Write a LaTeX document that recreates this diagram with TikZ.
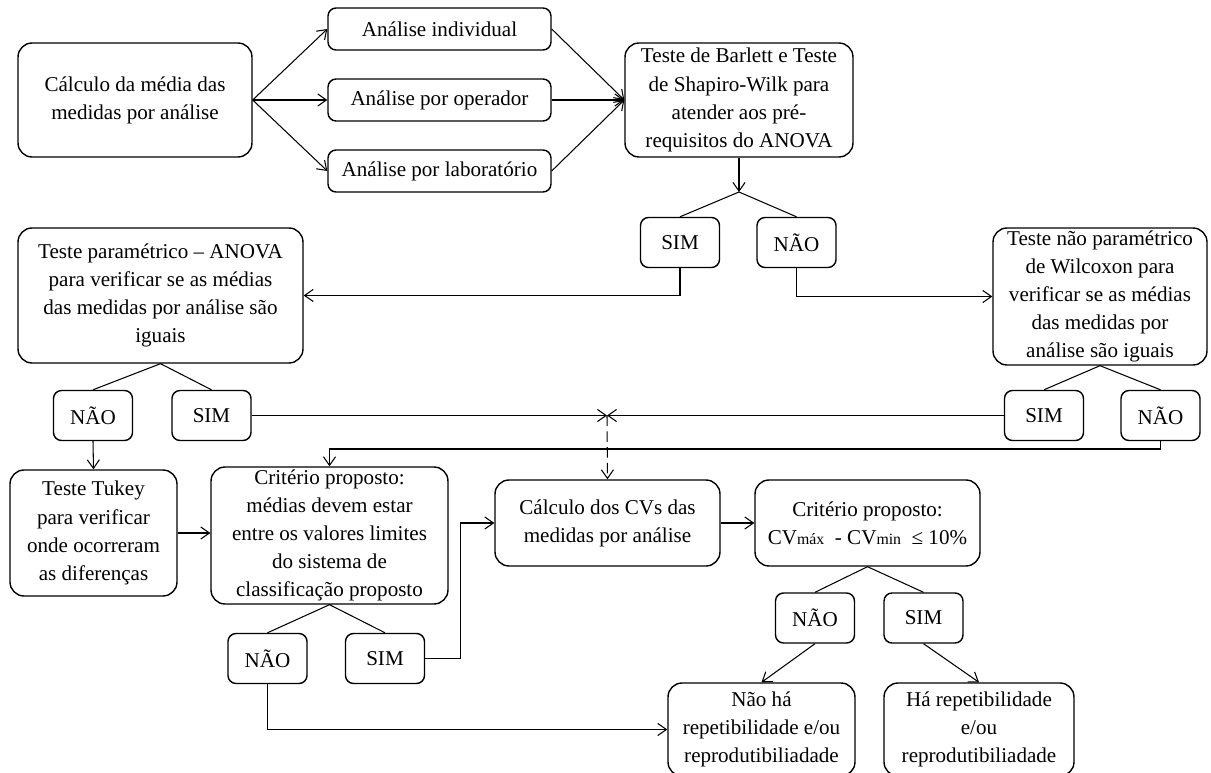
\documentclass[tikz,border=0pt]{standalone}
\usepackage{fontspec}
\setmainfont{Liberation Serif}
\usepackage{tikz}
\usetikzlibrary{arrows.meta}
\tikzset{caixa/.style={draw,rounded corners=0.28cm,line width=0.8pt,align=center,inner sep=0pt,font=\fontsize{12}{16}\selectfont}}
\tikzset{resposta/.style={caixa,rounded corners=0.16cm,minimum width=1.58cm,minimum height=1cm}}
\tikzset{liga/.style={line width=0.6pt,>={Straight Barb[angle=70:6pt]}}}
\newcommand{\pq}[1]{{\fontsize{9}{10}\selectfont #1}}

\begin{document}
\begin{tikzpicture}[x=0.02cm,y=-0.02cm]
        \useasboundingbox (0,0) rectangle (1211,773);
        \node[caixa,minimum width=4.68cm,minimum height=2.28cm] (media) at (135,100) {Cálculo da média das\\medidas por análise};
        \node[caixa,rounded corners=0.16cm,minimum width=4.46cm,minimum height=0.84cm] (indiv) at (439.5,29) {Análise individual};
        \node[caixa,rounded corners=0.16cm,minimum width=4.46cm,minimum height=0.84cm] (oper) at (439.5,100) {Análise por operador};
        \node[caixa,rounded corners=0.16cm,minimum width=4.46cm,minimum height=0.84cm] (lab) at (439.5,171) {Análise por laboratório};
        \node[caixa,minimum width=4.56cm,minimum height=2.28cm] (barlett) at (739,100) {Teste de Barlett e Teste\\de Shapiro-Wilk para\\atender aos pré-\\requisitos do ANOVA};
        \node[resposta] (simB) at (680,242.5) {SIM};
        \node[resposta] (naoB) at (796.5,242.5) {NÃO};
        \node[caixa,minimum width=5.7cm,minimum height=2.7cm] (anova) at (160.5,295.5) {Teste paramétrico -- ANOVA\\para verificar se as médias\\das medidas por análise são\\iguais};
        \node[caixa,minimum width=4.28cm,minimum height=2.74cm] (wilc) at (1100,296.5) {Teste não paramétrico\\de Wilcoxon para\\verificar se as médias\\das medidas por\\análise são iguais};
        \node[resposta] (naoA) at (93,415.5) {NÃO};
        \node[resposta] (simA) at (211.5,415.5) {SIM};
        \node[resposta] (simW) at (1044,415.5) {SIM};
        \node[resposta] (naoW) at (1160.5,415.5) {NÃO};
        \node[caixa,minimum width=3.34cm,minimum height=2.52cm] (tukey) at (93.5,533) {Teste Tukey\\para verificar\\onde ocorreram\\as diferenças};
        \node[caixa,minimum width=4.74cm,minimum height=2.74cm] (crit) at (329.5,535.5) {Critério proposto:\\médias devem estar\\entre os valores limites\\do sistema de\\classificação proposto};
        \node[resposta] (naoC) at (267.5,658.5) {NÃO};
        \node[resposta] (simC) at (385,658.5) {SIM};
        \node[caixa,minimum width=4.5cm,minimum height=1.72cm] (cvs) at (607.5,523) {Cálculo dos CVs das\\medidas por análise};
        \node[caixa,minimum width=4.5cm,minimum height=1.72cm] (critcv) at (867.5,523) {Critério proposto:\\CV\pq{máx}\ \ - CV\pq{min}\ \ ≤ 10\%};
        \node[resposta] (naoCV) at (815,618) {NÃO};
        \node[resposta] (simCV) at (923.5,618) {SIM};
        \node[caixa,minimum width=3.74cm,minimum height=1.86cm] (naoha) at (761.5,729.5) {Não há\\repetibilidade e/ou\\reprodutibiliadade};
        \node[caixa,minimum width=3.8cm,minimum height=1.86cm] (ha) at (979,729.5) {Há repetibilidade\\e/ou\\reprodutibiliadade};
        \coordinate (jB) at (739,192);
        \coordinate (enc) at (607,415.5);
        \coordinate (dobra) at (329.5,449);
        \draw[liga,->] (media.east) -- (indiv.west);
        \draw[liga,->] (media.east) -- (oper.west);
        \draw[liga,->] (media.east) -- (lab.west);
        \draw[liga,->] (indiv.east) -- (barlett.west);
        \draw[liga,->] (oper.east) -- (barlett.west);
        \draw[liga,->] (lab.east) -- (barlett.west);
        \draw[liga,->] (barlett.south) -- (jB);
        \draw[liga] (simB.north) -- (jB) -- (naoB.north);
        \draw[liga,->] (simB.south) |- (anova.east);
        \draw[liga,->] (naoB.south) |- (wilc.west);
        \draw[liga] (naoA.north) -- (anova.south) -- (simA.north);
        \draw[liga] (simW.north) -- (wilc.south) -- (naoW.north);
        \draw[liga,->] (simA.east) -- (enc);
        \draw[liga,->] (simW.west) -- (enc);
        \draw[liga,->,dash pattern=on 6pt off 3pt] (enc) -- (cvs.north);
        \draw[liga,->] (naoW.south) |- (dobra) -- (crit.north);
        \draw[liga,->] (naoA.south) -- (tukey.north);
        \draw[liga,->] (tukey.east) -- (tukey.east -| crit.west);
        \draw[liga] (naoC.north) -- (crit.south) -- (simC.north);
        \draw[liga,->] (simC.east) -- ++(35,0) |- (cvs.west);
        \draw[liga,->] (naoC.south) |- (naoha.west);
        \draw[liga,->] (cvs.east) -- (critcv.west);
        \draw[liga] (naoCV.north) -- (critcv.south) -- (simCV.north);
        \draw[liga,->] (naoCV.south) -- (naoha.north);
        \draw[liga,->] (simCV.south) -- (ha.north);
\end{tikzpicture}
\end{document}
